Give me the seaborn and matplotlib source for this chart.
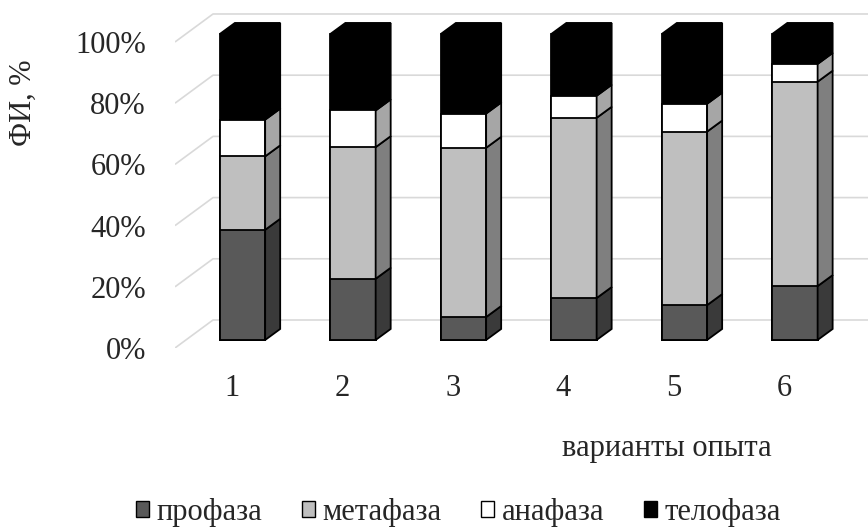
import numpy as np
import pandas as pd
import matplotlib
matplotlib.use("Agg")
import matplotlib.pyplot as plt
from matplotlib.patches import Patch
import seaborn as sns

# --- data: share of each mitosis phase (%) per experiment variant ---
variants = ["1", "2", "3", "4", "5", "6"]
phases = ["профаза", "метафаза", "анафаза", "телофаза"]
prophase = [36.0, 20.0, 7.5, 13.7, 11.4, 17.6]
metaphase = [24.0, 43.0, 55.3, 58.9, 56.7, 66.8]
anaphase = [12.0, 12.0, 11.2, 7.2, 9.1, 5.8]
telophase = [28.0, 25.0, 26.0, 20.2, 22.8, 9.8]
y_ticks = [0, 20, 40, 60, 80, 100]
y_tick_labels = ["0%", "20%", "40%", "60%", "80%", "100%"]

# --- styling ---
front_colors = ["#595959", "#bfbfbf", "#ffffff", "#000000"]
side_colors = ["#3a3a3a", "#7f7f7f", "#a6a6a6", "#000000"]
grid_color = "#d9d9d9"
edge_lw = 1.3
bar_width = 0.41

# oblique 3-D projection (data units): bar depth and floor/wall offsets
bar_dx, bar_dy = 0.136, 3.6
wall_front_dx, wall_front_dy = -0.098, -2.62
wall_back_dy = 6.53
wall_left_x = -0.611
wall_depth_dx = 0.344

sns.set_theme(style="white")
plt.rcParams["font.family"] = ["Liberation Serif", "DejaVu Serif"]
FS = 22

fig = plt.figure(figsize=(8.68, 5.27), dpi=100)
ax = fig.add_axes([175 / 868, 1 - 348 / 527, 1 - 175 / 868, 348 / 527])

df = pd.DataFrame({
    "вариант": variants,
    "профаза": prophase,
    "метафаза": metaphase,
    "анафаза": anaphase,
    "телофаза": telophase,
})
cum = df[phases].cumsum(axis=1)

# stacked front faces: draw cumulative totals from the top phase downwards
for k in range(len(phases) - 1, -1, -1):
    sns.barplot(x=df["вариант"], y=cum[phases[k]], order=variants,
                color=front_colors[k], saturation=1, width=bar_width,
                edgecolor="black", linewidth=edge_lw, errorbar=None,
                ax=ax, zorder=3)

# side and top faces of each 3-D column
for bar, i in zip(ax.containers[0], range(len(variants))):
    x0 = bar.get_x()
    x1 = x0 + bar.get_width()
    bottom = 0.0
    for k, ph in enumerate(phases):
        top = bottom + df[ph].iloc[i]
        ax.fill([x1, x1 + bar_dx, x1 + bar_dx, x1],
                [bottom, bottom + bar_dy, top + bar_dy, top],
                facecolor=side_colors[k], edgecolor="black",
                linewidth=edge_lw, zorder=3, joinstyle="miter")
        bottom = top
    ax.fill([x0, x0 + bar_dx, x1 + bar_dx, x1],
            [bottom, bottom + bar_dy, bottom + bar_dy, bottom],
            facecolor=side_colors[-1], edgecolor="black",
            linewidth=edge_lw, zorder=3, joinstyle="miter")

# gridlines on the side wall and back wall
x_back = wall_left_x + wall_depth_dx
for t in y_ticks:
    ax.plot([wall_left_x, x_back, 6.5],
            [t + wall_front_dy, t + wall_back_dy, t + wall_back_dy],
            color=grid_color, lw=1.2, zorder=0, solid_capstyle="butt")

ax.set_xlim(-0.611, 5.661)
ax.set_ylim(-2.61, 111.1)
for s in ax.spines.values():
    s.set_visible(False)

pos = np.arange(len(variants))
ax.set_xticks(pos + wall_front_dx, variants)
ax.set_yticks([t + wall_front_dy for t in y_ticks], y_tick_labels)
ax.tick_params(axis="x", length=0, pad=19, labelsize=FS)
ax.tick_params(axis="y", length=0, pad=21, labelsize=FS)

ax.set_ylabel("ФИ, %", fontsize=FS, va="center")
ax.yaxis.set_label_coords(-0.219, 0.704)
ax.set_xlabel("варианты опыта", fontsize=FS, va="center")
ax.xaxis.set_label_coords(0.71, -0.29)

handles = [Patch(facecolor=c, edgecolor="black", linewidth=1.0) for c in front_colors]
fig.legend(handles, phases, loc="center", bbox_to_anchor=(0.528, 0.027),
           ncol=4, frameon=False, fontsize=FS, handlelength=0.42,
           handleheight=0.42, handletextpad=0.25, columnspacing=1.3,
           borderaxespad=0, borderpad=0)

fig.savefig("out.png", dpi=100)
